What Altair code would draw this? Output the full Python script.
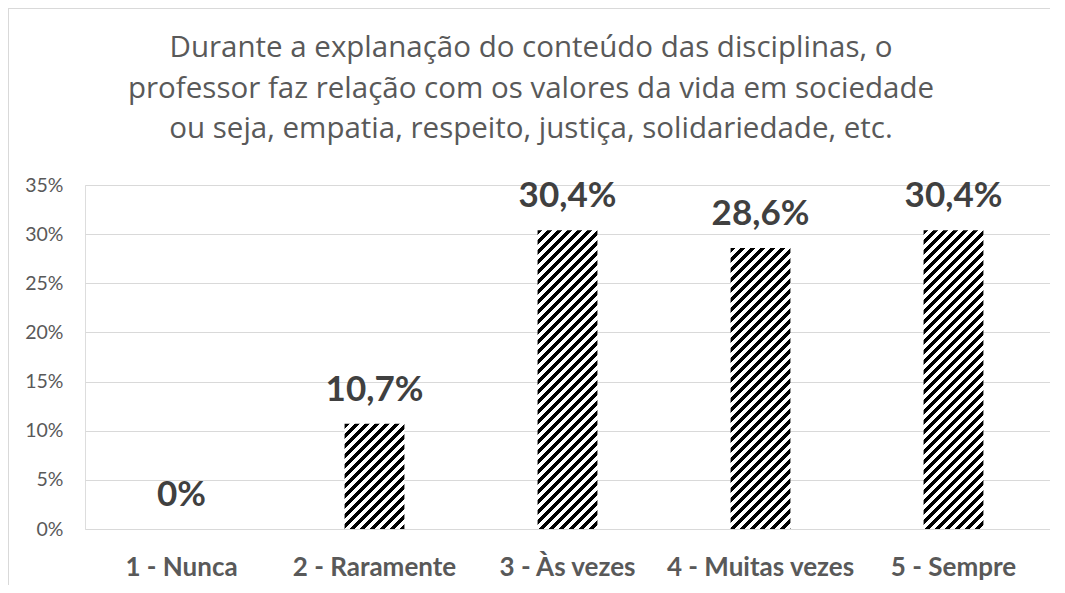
import altair as alt
import pandas as pd

# ---- data ----
categories = ["1 - Nunca", "2 - Raramente", "3 - Às vezes", "4 - Muitas vezes", "5 - Sempre"]
values = [0.0, 10.7, 30.4, 28.6, 30.4]
value_labels = ["0%", "10,7%", "30,4%", "28,6%", "30,4%"]
y_ticks = [0, 5, 10, 15, 20, 25, 30, 35]
title_lines = [
    "Durante a explanação do conteúdo das disciplinas, o",
    "professor faz relação com os valores da vida em sociedade",
    "ou seja, empatia, respeito, justiça, solidariedade, etc.",
]

# ---- layout / style ----
PLOT_W = 965
PLOT_H = 344
Y_MAX = 35
PAD_INNER = 0.69
PAD_OUTER = 0.345
GRAY = "#595959"
LABEL_GRAY = "#404040"
GRID = "#d9d9d9"
PAD_TOP = 177
PAD_BOTTOM = 56

df = pd.DataFrame({"cat": categories, "val": values, "lab": value_labels})

step = PLOT_W / (len(categories) - PAD_INNER + 2 * PAD_OUTER)
bar_w = step * (1 - PAD_INNER)


def hatch(value, period=10.0, black=0.52):
    """Diagonal '/' hatch as a linear gradient in bounding-box units."""
    W = bar_w
    H = max(value / Y_MAX * PLOT_H, 0.0)
    L = W + H
    stops = []
    pos = 0.0
    while pos < L:
        a = pos / L
        b = min((pos + period * black) / L, 1.0)
        c = min((pos + period) / L, 1.0)
        stops += [(a, "#000000"), (b, "#000000"), (b, "#ffffff"), (c, "#ffffff")]
        pos += period
    k = (W + H) / (W * W + H * H)
    return alt.LinearGradient(
        gradient="linear",
        stops=[alt.GradientStop(color=col, offset=o) for o, col in stops],
        x1=0, y1=0, x2=k * W, y2=k * H,
    )


x_enc = alt.X(
    "cat:N",
    sort=categories,
    scale=alt.Scale(paddingInner=PAD_INNER, paddingOuter=PAD_OUTER),
    axis=alt.Axis(
        title=None, labelAngle=0, labelFont="Lato", labelFontWeight="bold",
        labelFontSize=26, labelColor=GRAY, labelPadding=25, ticks=False,
        domain=False, grid=False, labelLimit=400,
    ),
)
y_enc = alt.Y(
    "val:Q",
    scale=alt.Scale(domain=[0, Y_MAX], nice=False, zero=True),
    axis=alt.Axis(
        title=None, values=y_ticks, labelExpr="datum.value + '%'",
        labelFont="Lato", labelFontSize=19.5, labelColor=GRAY,
        labelPadding=22, ticks=False, domain=False,
        gridColor=GRID, gridWidth=1,
    ),
)

base = alt.Chart(df)

bar_layers = []
for c, v in zip(categories, values):
    bar_layers.append(
        base.transform_filter(alt.datum.cat == c)
        .mark_bar(fill=hatch(v))
        .encode(x=x_enc, y=y_enc)
    )

text_layer = base.mark_text(
    font="Lato", fontWeight="bold", fontSize=35, color=LABEL_GRAY,
    baseline="alphabetic", dy=-23,
).encode(x=x_enc, y=y_enc, text="lab:N")

one_df = pd.DataFrame({"k": [0]})
title_layer = alt.Chart(one_df).mark_text(
    text=title_lines, font="Open Sans", fontSize=29.5, color=GRAY,
    lineHeight=40.5, align="center", baseline="alphabetic",
).encode(x=alt.value(446), y=alt.value(-128))

frame_left = alt.Chart(one_df).mark_rule(color=GRID, strokeWidth=1).encode(
    x=alt.value(-76.5), y=alt.value(-PAD_TOP), y2=alt.value(PLOT_H + PAD_BOTTOM)
)
frame_top = alt.Chart(one_df).mark_rule(color=GRID, strokeWidth=1).encode(
    x=alt.value(-77), x2=alt.value(PLOT_W), y=alt.value(-PAD_TOP + 0.5)
)

chart = (
    alt.layer(*bar_layers, text_layer, title_layer, frame_left, frame_top)
    .properties(
        width=PLOT_W,
        height=PLOT_H,
        autosize=alt.AutoSizeParams(type="none"),
        padding={"left": 77, "top": PAD_TOP, "right": 0, "bottom": PAD_BOTTOM},
    )
    .configure_view(stroke=None)
    .configure(background="white")
)

chart.save("out.html", embed_options={"renderer": "svg", "actions": False})
